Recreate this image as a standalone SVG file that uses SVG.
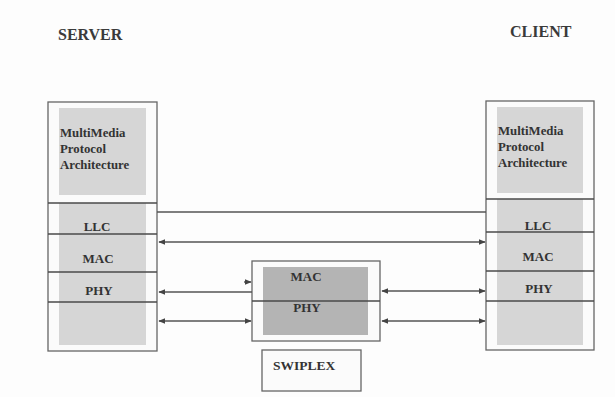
<svg xmlns="http://www.w3.org/2000/svg" width="615" height="397" viewBox="0 0 615 397">
<style>
text{font-family:"Liberation Serif","Times New Roman",serif;font-weight:bold;fill:#333}
.outer{fill:#fbfbfb;stroke:#666;stroke-width:1.3}
.sep{stroke:#4a4a4a;stroke-width:1.5}
.gray{fill:#d6d6d6}
.con{stroke:#555;stroke-width:1.4;fill:none}
.lbl{font-size:13px}
.mm{font-size:12.8px}
.title{font-size:16px;fill:#3a3a3a}
</style>
<defs>
<marker id="ah" viewBox="0 0 10 10" refX="9" refY="5" markerWidth="7" markerHeight="7" orient="auto-start-reverse" markerUnits="userSpaceOnUse">
<path d="M0,1 L10,5 L0,9 Z" fill="#444"/>
</marker>
</defs>
<rect width="615" height="397" fill="#fdfdfd"/>
<text class="title" x="58" y="40">SERVER</text>
<text class="title" x="510" y="37">CLIENT</text>
<g id="server">
<rect class="outer" x="48" y="102" width="109" height="249"/>
<rect class="gray" x="59" y="108" width="87" height="87" fill="#d9d9d9"/>
<rect class="gray" x="59" y="203" width="87" height="142"/>
<line class="sep" x1="48" y1="203" x2="157" y2="203"/>
<line class="sep" x1="48" y1="234" x2="157" y2="234"/>
<line class="sep" x1="48" y1="272" x2="157" y2="272"/>
<line class="sep" x1="48" y1="302" x2="157" y2="302"/>
<text class="mm" x="60" y="137">MultiMedia</text>
<text class="mm" x="60" y="153">Protocol</text>
<text class="mm" x="60" y="169">Architecture</text>
<text class="lbl" x="97" y="231" text-anchor="middle">LLC</text>
<text class="lbl" x="98" y="263" text-anchor="middle">MAC</text>
<text class="lbl" x="99" y="295" text-anchor="middle">PHY</text>
</g>
<g id="client">
<rect class="outer" x="486" y="101" width="108" height="249"/>
<rect class="gray" x="497" y="107" width="86" height="86" fill="#d9d9d9"/>
<rect class="gray" x="497" y="199" width="86" height="146"/>
<line class="sep" x1="486" y1="199" x2="594" y2="199"/>
<line class="sep" x1="486" y1="232" x2="594" y2="232"/>
<line class="sep" x1="486" y1="271" x2="594" y2="271"/>
<line class="sep" x1="486" y1="301" x2="594" y2="301"/>
<text class="mm" x="498" y="135">MultiMedia</text>
<text class="mm" x="498" y="151">Protocol</text>
<text class="mm" x="498" y="167">Architecture</text>
<text class="lbl" x="538" y="230" text-anchor="middle">LLC</text>
<text class="lbl" x="538" y="261" text-anchor="middle">MAC</text>
<text class="lbl" x="539" y="293" text-anchor="middle">PHY</text>
</g>
<g id="swiplex-stack">
<rect class="outer" x="252" y="261" width="128" height="80"/>
<rect x="263" y="267" width="105" height="68" fill="#b4b4b4"/>
<line class="sep" x1="252" y1="301" x2="380" y2="301"/>
<text class="lbl" x="306" y="281" text-anchor="middle">MAC</text>
<text class="lbl" x="307" y="312" text-anchor="middle">PHY</text>
</g>
<g id="swiplex">
<rect class="outer" x="262" y="350" width="99" height="41"/>
<text x="273" y="370" style="font-size:13.5px">SWIPLEX</text>
</g>
<g id="connectors">
<line class="con" x1="157" y1="212" x2="486" y2="212"/>
<line class="con" x1="159" y1="242" x2="485" y2="242" marker-start="url(#ah)" marker-end="url(#ah)"/>
<line class="con" x1="159" y1="292" x2="252" y2="292" marker-start="url(#ah)"/>
<line class="con" x1="244" y1="282" x2="251" y2="282" marker-end="url(#ah)"/>
<line class="con" x1="159" y1="321" x2="251" y2="321" marker-start="url(#ah)" marker-end="url(#ah)"/>
<line class="con" x1="382" y1="291" x2="485" y2="291" marker-start="url(#ah)" marker-end="url(#ah)"/>
<line class="con" x1="382" y1="321" x2="485" y2="321" marker-start="url(#ah)" marker-end="url(#ah)"/>
</g>
</svg>
